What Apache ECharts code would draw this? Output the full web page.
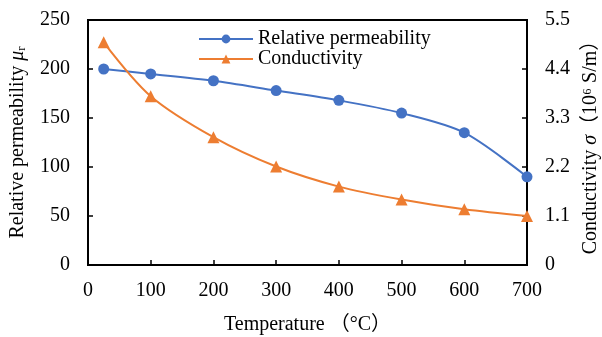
<!DOCTYPE html>
<html>
<head>
<meta charset="utf-8">
<script src="https://cdn.jsdelivr.net/npm/echarts@6/dist/echarts.min.js"></script>
<style>
  html, body { margin: 0; padding: 0; background: #fff; }
  #chart { width: 602px; height: 337px; }
</style>
</head>
<body>
<div id="chart"></div>
<script>
// temperature (°C)
const temperature = [25, 100, 200, 300, 400, 500, 600, 700];
// relative permeability μr (left axis)
const permeability = [200, 195, 188, 178, 168, 155, 135, 90];
// conductivity σ, 10^6 S/m (right axis)
const conductivity = [5.0, 3.79, 2.87, 2.21, 1.76, 1.47, 1.25, 1.1];

const seriesNames = ['Relative permeability', 'Conductivity'];

const FONT = '"Liberation Serif", "Times New Roman", "Noto Sans CJK SC", serif';
const FS = 20;
const BLUE = '#4472C4';
const ORANGE = '#ED7D31';

const chart = echarts.init(document.getElementById('chart'), null, { renderer: 'canvas' });

const axisCommon = {
  axisLine: { show: true, lineStyle: { color: '#000', width: 2 } },
  axisTick: { show: true, inside: true, length: 5, lineStyle: { color: '#000', width: 1.5 } },
  axisLabel: { color: '#000', fontFamily: FONT, fontSize: FS },
  splitLine: { show: false },
  nameTextStyle: { color: '#000', fontFamily: FONT, fontSize: FS },
};

chart.setOption({
  animation: false,
  textStyle: { fontFamily: FONT },
  grid: {
    left: 88, right: 75, top: 20, bottom: 72,
    outerBoundsMode: 'none',
    containLabel: false,
    show: true, borderColor: '#000', borderWidth: 2,
  },
  legend: {
    data: seriesNames,
    orient: 'vertical',
    left: 193, top: 24,
    itemWidth: 54, itemHeight: 11,
    itemGap: 0,
    textStyle: { color: '#000', fontFamily: FONT, fontSize: FS, lineHeight: 20 },
  },
  xAxis: {
    ...axisCommon,
    type: 'value',
    min: 0, max: 700, interval: 100,
    name: 'Temperature （°C）',
    nameLocation: 'middle',
    nameGap: 50,
    axisLabel: { ...axisCommon.axisLabel, margin: 16 },
  },
  yAxis: [
    {
      ...axisCommon,
      type: 'value',
      min: 0, max: 250, interval: 50,
      name: 'Relative permeability {i|μ}{s|r}',
      nameLocation: 'middle',
      nameRotate: 90,
      nameGap: 60,
      nameTextStyle: {
        ...axisCommon.nameTextStyle,
        rich: {
          i: { fontFamily: FONT, fontSize: FS, fontStyle: 'italic', color: '#000' },
          s: { fontFamily: FONT, fontSize: 13, color: '#000', verticalAlign: 'bottom', padding: [8, 0, 0, 0] },
        },
      },
      axisLabel: { ...axisCommon.axisLabel, margin: 18 },
    },
    {
      ...axisCommon,
      type: 'value',
      min: 0, max: 5.5, interval: 1.1,
      position: 'right',
      name: 'Conductivity {i|σ}（10⁶ S/m）',
      nameLocation: 'middle',
      nameRotate: 90,
      nameGap: 50,
      nameTextStyle: {
        ...axisCommon.nameTextStyle,
        rich: {
          i: { fontFamily: FONT, fontSize: FS, fontStyle: 'italic', color: '#000' },
        },
      },
      axisLabel: {
        ...axisCommon.axisLabel,
        margin: 18,
        formatter: (v) => (v === 0 ? '0' : (Math.round(v * 10) / 10).toFixed(1)),
      },
    },
  ],
  series: [
    {
      name: seriesNames[0],
      type: 'line',
      yAxisIndex: 0,
      smooth: 0.3,
      data: temperature.map((t, i) => [t, permeability[i]]),
      symbol: 'circle',
      symbolSize: 11,
      lineStyle: { color: BLUE, width: 2 },
      itemStyle: { color: BLUE },
    },
    {
      name: seriesNames[1],
      type: 'line',
      yAxisIndex: 1,
      smooth: 0.3,
      data: temperature.map((t, i) => [t, conductivity[i]]),
      symbol: 'triangle',
      symbolSize: 12,
      lineStyle: { color: ORANGE, width: 2 },
      itemStyle: { color: ORANGE },
    },
  ],
});
</script>
</body>
</html>
